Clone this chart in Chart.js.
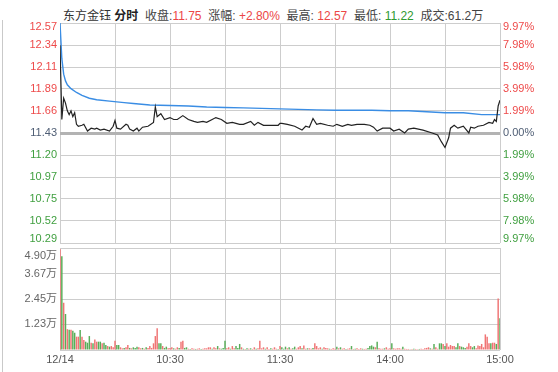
<!DOCTYPE html>
<html>
<head>
<meta charset="utf-8">
<script src="https://cdn.jsdelivr.net/npm/chart.js@4"></script>
<style>
  html, body { margin: 0; padding: 0; background: #fff; }
  #wrap { position: relative; width: 558px; height: 372px; overflow: hidden; font-family: 'Liberation Sans', 'Noto Sans CJK SC', sans-serif; }
  #title { position: absolute; left: 63px; top: 6px; font-size: 12px; color: #444; white-space: nowrap; }
  #title .name { color: #333; }
  #title b { color: #222; }
  .up { color: #ec4646; }
  .dn { color: #2f9a2f; }
  #priceChart { position: absolute; left: 0; top: 0; }
  #volChart { position: absolute; left: 0; top: 246px; }
  .edge { position: absolute; background: #c9c9c9; width: 1px; }
</style>
</head>
<body>
<div id="wrap">
  <div id="title">
    <span class="name">东方金钰</span> <b>分时</b>&nbsp; 收盘:<span class="up">11.75</span>&nbsp; 涨幅: <span class="up">+2.80%</span>&nbsp; 最高: <span class="up">12.57</span>&nbsp; 最低: <span class="dn">11.22</span>&nbsp; 成交:61.2万
  </div>
  <div class="edge" style="left:2px; top:20px; height:352px;"></div>
  <canvas id="priceChart" width="558" height="246"></canvas>
  <canvas id="volChart" width="558" height="126"></canvas>
</div>
<script>
// 昨收
const preClose = 11.43;

// 分时价格 (分钟序号, 价格)
const priceMin = [0,1,2,3,4,5,6,7,8,9,10,12,13,15,17,19,20,22,24,27,29,30,31,33,36,37,38,40,42,43,45,48,51,52,53,55,57,60,62,64,67,70,73,75,78,80,83,85,88,91,94,98,100,104,106,108,111,114,119,120,121,124,128,132,134,136,138,140,142,146,149,151,154,157,159,162,166,169,171,173,176,180,182,185,188,190,193,198,203,206,208,210,212,213,215,217,220,223,224,226,228,231,234,236,237,238,239,240];
const priceVal = [12.34,11.57,11.79,11.74,11.66,11.62,11.66,11.60,11.64,11.52,11.50,11.51,11.52,11.45,11.48,11.47,11.48,11.46,11.47,11.45,11.50,11.56,11.48,11.47,11.52,11.51,11.47,11.45,11.48,11.45,11.49,11.50,11.54,11.70,11.60,11.63,11.57,11.59,11.57,11.57,11.61,11.57,11.55,11.54,11.55,11.54,11.57,11.59,11.57,11.53,11.54,11.52,11.52,11.55,11.51,11.54,11.51,11.51,11.51,11.53,11.53,11.52,11.50,11.46,11.50,11.49,11.58,11.52,11.53,11.51,11.50,11.52,11.50,11.52,11.51,11.52,11.52,11.51,11.49,11.45,11.48,11.48,11.45,11.47,11.43,11.47,11.48,11.46,11.43,11.41,11.34,11.28,11.38,11.48,11.51,11.48,11.50,11.43,11.49,11.48,11.50,11.51,11.54,11.53,11.57,11.55,11.71,11.77];

// 均价线
const avgMin = [0,1,2,3,4,6,9,12,16,20,27,35,40,49,60,70,80,90,100,110,120,130,140,150,160,170,180,190,200,210,220,230,240];
const avgVal = [12.57,12.20,12.04,11.97,11.93,11.89,11.85,11.82,11.79,11.775,11.76,11.745,11.735,11.72,11.715,11.71,11.70,11.695,11.69,11.685,11.68,11.675,11.67,11.665,11.665,11.665,11.66,11.66,11.65,11.64,11.64,11.62,11.62];

// 成交量 (万), 每分钟一根
const volume = [
  4.84,4.50,2.27,1.73,1.00,0.97,0.97,0.93,0.83,0.64,
  0.64,0.96,0.64,0.48,0.40,0.35,0.67,0.35,0.32,0.51,
  0.40,0.40,0.40,0.32,0.35,0.24,0.19,0.16,0.19,0.13,
  0.45,0.24,0.24,0.13,0.08,0.10,0.13,0.24,0.10,0.08,
  0.13,0.10,0.16,0.13,0.08,0.10,0.06,0.13,0.10,0.19,
  0.10,0.32,0.67,1.04,0.32,0.32,0.19,0.10,0.16,0.08,
  0.10,0.13,0.08,0.06,0.13,0.10,0.40,0.44,0.10,0.13,
  0.06,0.05,0.08,0.06,0.05,0.06,0.08,0.05,0.06,0.08,
  0.08,0.13,0.13,0.06,0.13,0.08,0.19,0.08,0.06,0.10,
  0.45,0.08,0.13,0.06,0.19,0.08,0.19,0.10,0.29,0.13,
  0.06,0.05,0.08,0.06,0.08,0.05,0.13,0.06,0.08,0.45,
  0.08,0.13,0.06,0.13,0.05,0.08,0.06,0.13,0.06,0.05,
  0.19,0.13,0.06,0.16,0.08,0.13,0.06,0.08,0.16,0.06,
  0.13,0.19,0.08,0.22,0.06,0.08,0.08,0.06,0.10,0.32,
  0.19,0.08,0.13,0.06,0.13,0.10,0.08,0.06,0.05,0.08,
  0.06,0.16,0.08,0.13,0.06,0.08,0.05,0.06,0.08,0.19,
  0.05,0.06,0.08,0.05,0.08,0.06,0.05,0.06,0.10,0.19,
  0.22,0.16,0.13,0.40,0.08,0.06,0.06,0.08,0.13,0.06,
  0.08,0.32,0.08,0.06,0.08,0.08,0.06,0.16,0.06,0.05,
  0.05,0.04,0.05,0.06,0.05,0.04,0.05,0.06,0.05,0.08,
  0.10,0.13,0.08,0.06,0.29,0.13,0.06,0.32,0.32,0.29,
  0.19,0.32,0.16,0.24,0.19,0.19,0.13,0.32,0.19,0.16,
  0.13,0.10,0.16,0.32,0.19,0.13,0.19,0.08,0.22,0.19,
  0.29,0.13,0.75,0.64,0.32,0.32,0.35,0.35,0.29,2.48,
  1.52
];
// 涨跌方向 r=红 g=绿
const volDir = (
  'rgrgrgrggr' + 'rgrrgggrgr' + 'rggrggrgrr' + 'rggrrgrrgr' + 'gggrrgrgrr' +
  'rrrrggrggr' + 'rrgrrgrrgg' + 'rgrrgrrgrr' + 'rrrgrrgrgg' + 'grrgrrgggr' +
  'grgrgrrgrr' + 'rrgrrgrrrg' + 'rgggrgrggr' + 'rrgrrgrrgr' + 'rrrgrrrgrr' +
  'rgrgrrgrrg' + 'rgrrrgrrgg' + 'ggrgrrrgrr' + 'rgrrrrrgrr' + 'rgrgrrgrrr' +
  'rrgrgrrggr' + 'grrrrrggrg' + 'ggrrrggrrr' + 'rrrrrgrrgr' + 'g'
).split('');

const priceTicks = [10.29, 10.52, 10.75, 10.97, 11.20, 11.43, 11.66, 11.89, 12.11, 12.34, 12.57];
const pctTicks = [-9.97, -7.98, -5.98, -3.99, -1.99, 0, 1.99, 3.99, 5.98, 7.98, 9.97];
const volTicks = [0, 1.23, 2.45, 3.67, 4.90];
const timeTicks = [0, 30, 60, 90, 120, 150, 180, 210, 240];
const timeLabelMin = [0, 60, 120, 180, 240];
const timeLabels = ['12/14', '10:30', '11:30', '14:00', '15:00'];

const RED = '#ee4a4a';
const GREEN = '#3f9f3f';
const FLAT = '#4e5d74';
const GRID = '#cdcdcd';
const FONT = { family: "'Liberation Sans', 'Noto Sans CJK SC', sans-serif", size: 11 };

const fixTicks = (values) => (scale) => { scale.ticks = values.map(v => ({ value: v })); };

// 首尾标签往里收
const edgeLabel = (text, index, count) => {
  if (index === count - 1) return ['', text];
  if (index === 0) return [text, ''];
  return text;
};

const priceColor = (v, base) => v > base ? RED : (v < base ? GREEN : FLAT);

new Chart(document.getElementById('priceChart'), {
  type: 'line',
  data: {
    datasets: [
      {
        data: priceMin.map((m, i) => ({ x: m, y: priceVal[i] })),
        borderColor: '#222',
        borderWidth: 1.2,
        pointRadius: 0,
        tension: 0,
        yAxisID: 'y'
      },
      {
        data: avgMin.map((m, i) => ({ x: m, y: avgVal[i] })),
        borderColor: '#3a8de4',
        borderWidth: 1.4,
        pointRadius: 0,
        tension: 0,
        yAxisID: 'y'
      }
    ]
  },
  options: {
    responsive: false,
    animation: false,
    layout: { padding: { top: 23, bottom: 3 } },
    plugins: { legend: { display: false }, tooltip: { enabled: false } },
    scales: {
      x: {
        type: 'linear', min: 0, max: 240,
        afterBuildTicks: fixTicks(timeTicks),
        ticks: { display: false },
        grid: { color: GRID, drawTicks: false },
        border: { display: false },
        afterFit: s => { s.height = 0; s.paddingLeft = 0; s.paddingRight = 0; }
      },
      y: {
        position: 'left', min: 10.29, max: 12.57,
        afterBuildTicks: fixTicks(priceTicks),
        ticks: {
          autoSkip: false,
          padding: 3,
          font: { ...FONT, lineHeight: 0.8 },
          color: ctx => priceColor(ctx.tick.value, preClose),
          callback: (v, i, t) => edgeLabel(v.toFixed(2), i, t.length)
        },
        grid: {
          drawTicks: false,
          color: ctx => ctx.tick && ctx.tick.value === preClose ? '#b3b3b3' : GRID,
          lineWidth: ctx => ctx.tick && ctx.tick.value === preClose ? 3 : 1
        },
        border: { display: false },
        afterFit: s => { s.width = 60; s.paddingTop = 0; s.paddingBottom = 0; }
      },
      pct: {
        position: 'right', min: -9.97, max: 9.97,
        afterBuildTicks: fixTicks(pctTicks),
        ticks: {
          autoSkip: false,
          padding: 3,
          font: { ...FONT, lineHeight: 0.8 },
          color: ctx => priceColor(ctx.tick.value, 0),
          callback: (v, i, t) => edgeLabel(Math.abs(v).toFixed(2) + '%', i, t.length)
        },
        grid: { drawOnChartArea: false, drawTicks: false },
        border: { display: false },
        afterFit: s => { s.width = 58; s.paddingTop = 0; s.paddingBottom = 0; }
      }
    }
  }
});

new Chart(document.getElementById('volChart'), {
  type: 'bar',
  data: {
    datasets: [{
      data: volume.map((v, i) => ({ x: i, y: v })),
      backgroundColor: volDir.map(d => d === 'r' ? '#f07474' : '#58ad58'),
      barPercentage: 0.8,
      categoryPercentage: 1
    }]
  },
  options: {
    responsive: false,
    animation: false,
    layout: { padding: { top: 2, right: 58 } },
    plugins: { legend: { display: false }, tooltip: { enabled: false } },
    scales: {
      x: {
        type: 'linear', min: 0, max: 240, offset: false,
        afterBuildTicks: fixTicks(timeTicks),
        ticks: {
          autoSkip: false, maxRotation: 0, padding: 3,
          color: '#555', font: FONT,
          callback: v => {
            const k = timeLabelMin.indexOf(v);
            return k >= 0 ? timeLabels[k] : '';
          }
        },
        grid: { color: GRID, drawTicks: false, offset: false },
        border: { display: false },
        afterFit: s => { s.height = 22; s.paddingLeft = 0; s.paddingRight = 0; }
      },
      y: {
        min: 0, max: 4.90,
        afterBuildTicks: fixTicks(volTicks),
        ticks: {
          autoSkip: false,
          padding: 3,
          color: '#666',
          font: { ...FONT, lineHeight: 1.45 },
          callback: (v, i, t) => {
            if (i === 0) return '';
            const txt = v.toFixed(2) + '万';
            return i === t.length - 1 ? ['', txt] : txt;
          }
        },
        grid: { color: GRID, drawTicks: false },
        border: { display: false },
        afterFit: s => { s.width = 60; s.paddingTop = 0; s.paddingBottom = 0; }
      }
    }
  }
});
</script>
</body>
</html>
